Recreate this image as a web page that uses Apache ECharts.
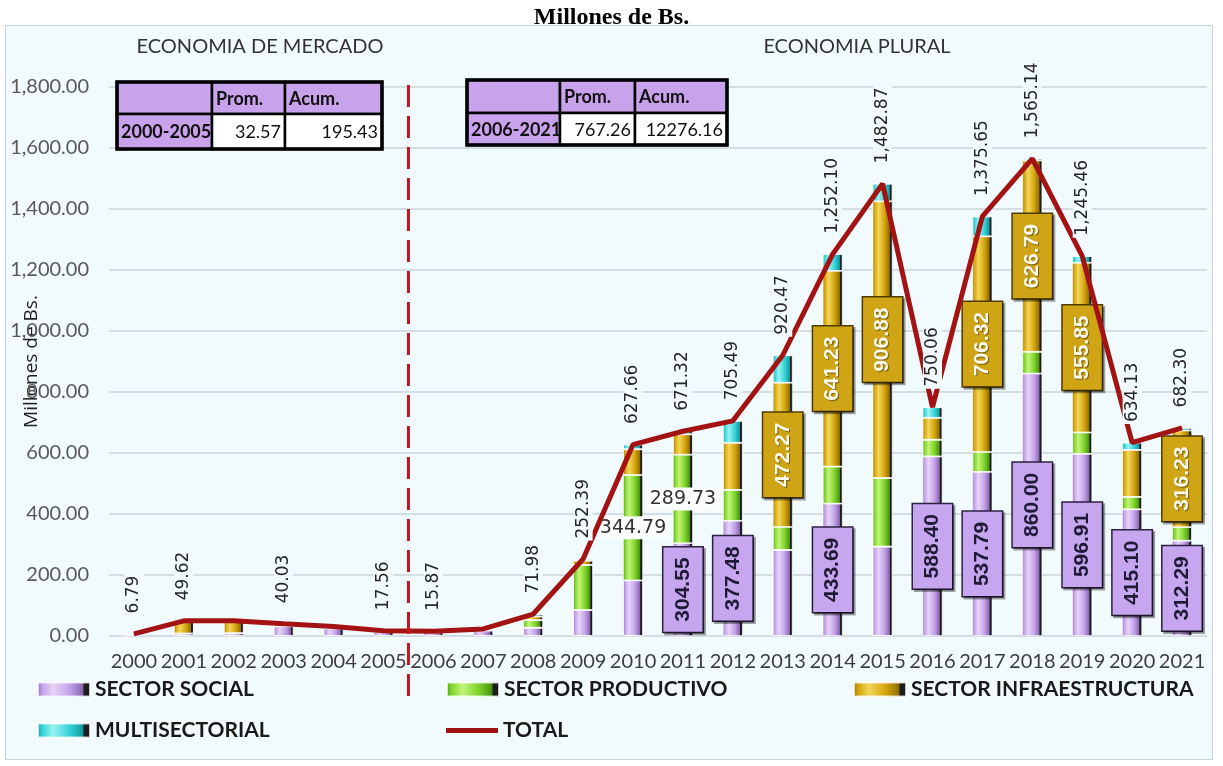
<!DOCTYPE html>
<html>
<head>
<meta charset="utf-8">
<script src="https://cdn.jsdelivr.net/npm/echarts@6/dist/echarts.min.js"></script>
<style>
  html, body { margin: 0; padding: 0; background: #ffffff; }
  #frame { position: absolute; left: 5px; top: 25px; width: 1208px; height: 735px;
           background: #f1fbfd; border: 1.5px solid #c3d6e2; box-sizing: border-box; }
  #chart { position: absolute; left: 0; top: 0; width: 1223px; height: 766px; }
</style>
</head>
<body>
<div id="frame"></div>
<div id="chart"></div>
<script>
// Inversión pública por sector, millones de Bs.
const years = ['2000','2001','2002','2003','2004','2005','2006','2007','2008','2009','2010',
               '2011','2012','2013','2014','2015','2016','2017','2018','2019','2020','2021'];

const social = [6.79, 8, 9, 32, 25, 15, 12, 18, 27, 85, 182.5,
                304.55, 377.48, 282, 433.69, 293, 588.40, 537.79, 860.00, 596.91, 415.10, 312.29];
const productivo = [0, 0, 0, 0, 0, 0, 2, 3, 25, 148, 344.79,
                    289.73, 101.5, 76, 122, 225, 55, 66, 72, 70.7, 41, 45];
const infraestructura = [0, 39, 39, 6, 5, 2.56, 1.87, 2.27, 12, 14, 85,
                         67.04, 154.5, 472.27, 641.23, 906.88, 72, 706.32, 626.79, 555.85, 154, 316.23];
const multisectorial = [0, 2.62, 1.95, 2.03, 1.48, 0, 0, 0, 7.98, 5.39, 15.37,
                        10, 72.01, 90.2, 55.18, 57.99, 34.66, 65.54, 6.35, 22, 24.03, 8.78];
const total = [6.79, 49.62, 49.95, 40.03, 31.48, 17.56, 15.87, 23.27, 71.98, 252.39, 627.66,
               671.32, 705.49, 920.47, 1252.10, 1482.87, 750.06, 1375.65, 1565.14, 1245.46, 634.13, 682.30];

// years whose segment carries a value tag
const socialTagged = ['2011','2012','2014','2016','2017','2018','2019','2020','2021'];
const productivoTagged = ['2010','2011'];
const infraTagged = ['2013','2014','2015','2017','2018','2019','2021'];
const totalUntagged = ['2002','2004','2007'];

// summary tables
const tableHeader = ['', 'Prom.', 'Acum.'];
const mercadoRow = ['2000-2005', '32.57', '195.43'];
const pluralRow = ['2006-2021', '767.26', '12276.16'];

const BG = '#f1fbfd';

function barFill(light, base, dark) {
  return new echarts.graphic.LinearGradient(0, 0, 1, 0, [
    { offset: 0, color: dark },
    { offset: 0.1, color: base },
    { offset: 0.3, color: light },
    { offset: 0.6, color: base },
    { offset: 0.84, color: dark },
    { offset: 0.88, color: '#1c1c1c' },
    { offset: 1, color: '#1c1c1c' }
  ]);
}

const fmt2 = v => Number(v).toFixed(2);
const fmtThousands = v => Number(v).toLocaleString('en-US', { minimumFractionDigits: 2, maximumFractionDigits: 2 });

const purpleTag = {
  show: true, position: 'inside', rotate: 90,
  fontFamily: 'Liberation Sans', fontWeight: 'bold', fontSize: 21, lineHeight: 21,
  color: '#1f1a35', backgroundColor: '#c6a6ee', borderColor: '#2b2140', borderWidth: 1.5,
  padding: [9, 10], shadowColor: 'rgba(0,0,0,0.35)', shadowOffsetX: 2, shadowOffsetY: 2,
  formatter: p => fmt2(p.value)
};
const goldTag = {
  show: true, position: 'inside', rotate: 90,
  fontFamily: 'Liberation Sans', fontWeight: 'bold', fontSize: 21, lineHeight: 21,
  color: '#fffbea', backgroundColor: '#d0a515', borderColor: '#4e3b00', borderWidth: 1.5,
  padding: [9, 10], shadowColor: 'rgba(0,0,0,0.35)', shadowOffsetX: 2, shadowOffsetY: 2,
  textShadowColor: 'rgba(0,0,0,0.45)', textShadowBlur: 1, textShadowOffsetX: 1, textShadowOffsetY: 1,
  formatter: p => fmt2(p.value)
};
const plainTag = {
  show: true, position: 'inside', rotate: 0,
  fontFamily: 'DejaVu Sans', fontSize: 19, color: '#333333',
  backgroundColor: '#fbfdfd', padding: [2, 3],
  formatter: p => fmt2(p.value)
};

function withTags(values, taggedYears, tag) {
  return values.map((v, i) => taggedYears.includes(years[i]) ? { value: v, label: tag } : v);
}

function barSeries(name, values, taggedYears, tag, fill) {
  return {
    name: name, type: 'bar', stack: 'sector', barWidth: 20,
    itemStyle: { color: fill, borderColor: 'rgba(255,255,255,0.75)', borderWidth: 0.8 },
    label: { show: false },
    data: withTags(values, taggedYears, tag)
  };
}

const totalData = total.map((v, i) => totalUntagged.includes(years[i])
  ? { value: v, label: { show: false } } : v);

const legendText = { fontFamily: 'Lato', fontWeight: 'bold', fontSize: 21, color: '#1a1a1a' };
function legendAt(name, left, top, h) {
  return { data: [name], left: left, top: top, icon: 'rect', itemWidth: 52, itemHeight: h || 14,
           itemGap: 0, padding: 0, textStyle: legendText, selectedMode: false };
}

const chart = echarts.init(document.getElementById('chart'), null, { renderer: 'canvas' });

chart.setOption({
  backgroundColor: 'transparent',
  animation: false,
  title: {
    text: 'Millones de Bs.', left: 'center', top: 1,
    textStyle: { fontFamily: 'Liberation Serif', fontWeight: 'bold', fontSize: 24, color: '#000' }
  },
  grid: { left: 109, right: 16, top: 87, bottom: 130, outerBoundsMode: 'none', containLabel: false },
  legend: [
    legendAt('SECTOR SOCIAL', 37, 679),
    legendAt('SECTOR PRODUCTIVO', 446, 679),
    legendAt('SECTOR INFRAESTRUCTURA', 853, 679),
    legendAt('MULTISECTORIAL', 37, 720),
    legendAt('TOTAL', 446, 720, 5)
  ],
  xAxis: {
    type: 'category', data: years,
    axisTick: { show: false },
    axisLine: { show: false },
    axisLabel: { fontFamily: 'Lato', fontSize: 20, color: '#3d3d3d', margin: 16, interval: 0 }
  },
  yAxis: {
    type: 'value', min: 0, max: 1800, interval: 200,
    name: 'Millones de Bs.', nameLocation: 'middle', nameGap: 68, nameMoveOverlap: false,
    nameTextStyle: { fontFamily: 'Open Sans', fontSize: 19, color: '#222' },
    axisLabel: {
      fontFamily: 'Lato', fontSize: 20, color: '#595959', margin: 20,
      formatter: v => fmtThousands(v)
    },
    splitLine: { lineStyle: { color: '#c8d3db', width: 1.5 } }
  },
  series: [
    barSeries('SECTOR SOCIAL', social, socialTagged, purpleTag, barFill('#e6d4f8', '#c4a2ea', '#8a68b3')),
    barSeries('SECTOR PRODUCTIVO', productivo, productivoTagged, plainTag, barFill('#c2f47a', '#7fd42a', '#4a9612')),
    barSeries('SECTOR INFRAESTRUCTURA', infraestructura, infraTagged, goldTag, barFill('#f3d65a', '#d4a50e', '#946f00')),
    barSeries('MULTISECTORIAL', multisectorial, [], null, barFill('#9af2f2', '#36d3d8', '#139aa2')),
    {
      name: 'TOTAL', type: 'line', data: totalData,
      symbol: 'circle', symbolSize: 1, showSymbol: true,
      itemStyle: { color: '#a31313' },
      lineStyle: { color: '#a31313', width: 5 },
      label: {
        show: true, position: 'top', distance: 18, rotate: 90,
        align: 'left', verticalAlign: 'middle',
        fontFamily: 'DejaVu Sans', fontSize: 17, color: '#262626',
        backgroundColor: BG, padding: [1, 2],
        formatter: p => fmtThousands(p.value)
      }
    }
  ]
});

// summary table drawn as graphic cells
function tableGraphic(x0, y0, colW, rowH, row) {
  const els = [];
  const purple = '#c9a2ec';
  let y = y0;
  const rows = [tableHeader, row];
  rows.forEach((cells, r) => {
    let x = x0;
    cells.forEach((txt, c) => {
      const isHead = r === 0 || c === 0;
      els.push({ type: 'rect', z: 20, shape: { x: x, y: y, width: colW[c], height: rowH[r] },
                 style: { fill: isHead ? purple : '#ffffff', stroke: '#000', lineWidth: 2.5 } });
      if (txt) {
        els.push({ type: 'text', z: 21,
          style: {
            text: txt, x: isHead ? x + 4 : x + colW[c] - 4, y: y + rowH[r] / 2 + 1,
            align: isHead ? 'left' : 'right', verticalAlign: 'middle',
            font: (isHead ? 'bold ' : '') + '18px Lato', fill: '#111'
          } });
      }
      x += colW[c];
    });
    y += rowH[r];
  });
  const w = colW.reduce((a, b) => a + b, 0), h = rowH.reduce((a, b) => a + b, 0);
  els.push({ type: 'rect', z: 22, shape: { x: x0, y: y0, width: w, height: h },
             style: { fill: 'none', stroke: '#000', lineWidth: 3.5 } });
  return els;
}

// dashed divider between the two periods, placed between the 2005 and 2006 bands
const x2005 = chart.convertToPixel({ xAxisIndex: 0 }, '2005');
const x2006 = chart.convertToPixel({ xAxisIndex: 0 }, '2006');
const xDiv = (x2005 + x2006) / 2;

chart.setOption({
  graphic: [
    { type: 'line', z: 15, shape: { x1: xDiv, y1: 85, x2: xDiv, y2: 697 },
      style: { stroke: '#c3161c', lineWidth: 3, lineDash: [22, 9] } },
    { type: 'text', z: 15, style: { text: 'ECONOMIA DE MERCADO', x: 260, y: 47, align: 'center', verticalAlign: 'middle',
      font: '20px Lato', fill: '#333' } },
    { type: 'text', z: 15, style: { text: 'ECONOMIA PLURAL', x: 857, y: 47, align: 'center', verticalAlign: 'middle',
      font: '20px Lato', fill: '#333' } }
  ].concat(tableGraphic(117, 82, [95, 73, 97], [32, 35], mercadoRow))
   .concat(tableGraphic(467, 80, [93, 75, 92], [33, 32], pluralRow))
});
</script>
</body>
</html>
